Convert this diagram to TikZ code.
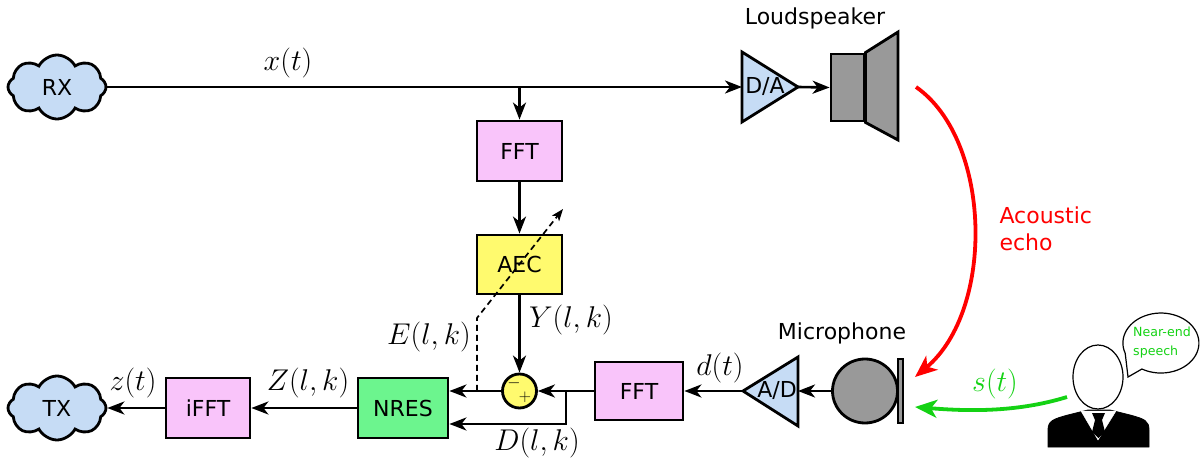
\RequirePackage{fix-cm}
\documentclass[tikz,border=0pt]{standalone}
\usepackage[no-math]{fontspec}
\setmainfont{DejaVu Sans}
\usetikzlibrary{shapes.symbols,shapes.geometric,arrows.meta,calc}

\definecolor{cloudblue}{RGB}{198,220,245}
\definecolor{fftpink}{RGB}{249,196,250}
\definecolor{aecyellow}{RGB}{255,250,110}
\definecolor{nresgreen}{RGB}{108,245,142}
\definecolor{spkgray}{RGB}{153,153,153}
\definecolor{speechgreen}{RGB}{20,210,20}

\tikzset{
  sans/.style={font=\fontsize{22}{25}\selectfont},
  mathlbl/.style={font=\fontsize{30}{34}\selectfont, inner sep=0pt},
  blk/.style={draw, line width=2.8pt, sans, inner sep=0pt},
  fftbox/.style={blk, fill=fftpink, minimum width=85pt, minimum height=60pt},
  aecbox/.style={blk, fill=aecyellow, minimum width=85pt, minimum height=59pt},
  nresbox/.style={blk, fill=nresgreen, minimum width=90pt, minimum height=60pt},
  netcloud/.style={cloud, draw, fill=cloudblue, line width=2.8pt, cloud puffs=8,
    cloud puff arc=125, aspect=1.6, minimum width=98pt, minimum height=64pt,
    inner sep=0pt, sans},
  converter/.style={draw, fill=cloudblue, line width=2.8pt, line join=miter},
  grayshape/.style={draw, fill=spkgray, line width=2.8pt},
  arr/.style={line width=2.6pt, -{Stealth[length=17pt,width=13pt,inset=5pt]}},
  echoarr/.style={red, line width=3.8pt, -{Stealth[length=22pt,width=18pt,inset=6pt]}},
  speecharr/.style={speechgreen, line width=3.8pt, -{Stealth[length=22pt,width=18pt,inset=6pt]}},
}

\begin{document}
\begin{tikzpicture}[x=1pt, y=-1pt]
\useasboundingbox (0,0) rectangle (1200,462);

% ---- far-end path -------------------------------------------------------
\node[netcloud] (rx) at (57,87) {RX};

% D/A converter
\draw[converter] (742,52) -- (798,87) -- (742,122) -- cycle;
\node[sans, inner sep=0pt] (da) at (765,87) {D/A};
\coordinate (daIn) at (742,87);
\coordinate (daOut) at (798,87);

% loudspeaker
\node[grayshape, minimum width=33pt, minimum height=67pt, inner sep=0pt] (spk) at (847.5,87.5) {};
\draw[grayshape, line join=miter] (spk.north east) -- (898,32) -- (898,140) -- (spk.south east) -- cycle;
\node[sans] (spklbl) at (815,18) {Loudspeaker};

\coordinate (j1) at (519.5,87);
\draw[arr] (rx.east) -- (daIn);
\draw[arr] (daOut) -- (spk.west);
\node[mathlbl] (xt) at (288,63) {$x(t)$};

% ---- processing chain --------------------------------------------------
\node[fftbox] (fft1) at (519.5,151) {FFT};
\node[aecbox] (aec) at (519.5,264.5) {AEC};
\node[circle, draw, fill=aecyellow, line width=2.8pt, minimum size=34pt, inner sep=0pt] (sum) at (519.5,391) {};
\node[font=\fontsize{17}{17}\selectfont, inner sep=0pt] (minus) at (514,383) {$-$};
\node[font=\fontsize{17}{17}\selectfont, inner sep=0pt] (plus) at (525,397) {$+$};
\node[fftbox, minimum width=88pt, minimum height=58pt] (fft2) at (639,391) {FFT};
\node[nresbox] (nres) at (403,408) {NRES};
\node[fftbox, minimum width=84pt] (ifft) at (208,408) {iFFT};
\node[netcloud] (tx) at (57,408) {TX};

\draw[arr] (j1) -- (fft1.north);
\draw[arr] (fft1.south) -- (aec.north);
\draw[arr] (aec.south) -- (sum.north);
\draw[arr] (fft2.west) -- (sum.east);
\draw[arr] (sum.west) -- (sum.west -| nres.east);
\coordinate (j2) at (566,391);
\draw[arr] (j2) |- ([yshift=-16pt]nres.east);
\draw[arr] (nres.west) -- (ifft.east);
\draw[arr] (ifft.west) -- (tx.east);

% adaptation (error feedback) path
\coordinate (e0) at (477,391);
\coordinate (e1) at (477,318);
\coordinate (e2) at (563,209);
\draw[line width=1.7pt, dash pattern=on 6pt off 4pt, -{Stealth[length=12pt,width=9pt,inset=3pt]}] (e0) -- (e1) -- (e2);

\node[mathlbl] (ylk) at (571,320) {$Y(l,k)$};
\node[mathlbl] (elk) at (429,337) {$E(l,k)$};
\node[mathlbl] (dlk) at (537,443) {$D(l,k)$};
\node[mathlbl] (zlk) at (308,383) {$Z(l,k)$};
\node[mathlbl] (zt) at (133,383) {$z(t)$};
\node[mathlbl] (dt) at (720,368) {$d(t)$};

% ---- near-end capture --------------------------------------------------
\draw[converter] (798,357) -- (743,391) -- (798,426) -- cycle;
\node[sans, inner sep=0pt] (ad) at (777,391) {A/D};
\coordinate (adIn) at (798,391);
\coordinate (adOut) at (743,391);

\node[ellipse, grayshape, minimum width=65pt, minimum height=64pt, inner sep=0pt] (mic) at (865,391) {};
\node[draw, fill=spkgray, line width=1.8pt, minimum width=5pt, minimum height=64pt, inner sep=0pt] (micbar) at (900.5,391) {};
\node[sans] (miclbl) at (842,333) {Microphone};

\draw[arr] (mic.west) -- (adIn);
\draw[arr] (adOut) -- (fft2.east);

% acoustic echo
\draw[echoarr] (916,87) .. controls (992,140) and (995,310) .. (915,377);
\node[sans, red, anchor=west, align=left, font=\fontsize{22}{27}\selectfont] (echo) at (996,229) {Acoustic\\echo};

% near-end talker
\draw[black, line width=0.8pt, fill=black]
  (1048,447) -- (1048,430) .. controls (1048,421) and (1053,419) .. (1068,415)
  -- (1088,410) -- (1110,410) -- (1130,415)
  .. controls (1145,419) and (1149,421) .. (1149,430) -- (1149,447) -- cycle;
\draw[white, fill=white] (1081,411) -- (1098,440) -- (1116,411) -- cycle;
\fill[black] (1092,413) -- (1105,413) -- (1102,420) -- (1095,420) -- cycle;
\fill[black] (1095,420) -- (1102,420) -- (1105,432) -- (1098.5,438) -- (1092,432) -- cycle;
\node[ellipse, draw, fill=white, line width=1.2pt, minimum width=50pt, minimum height=64pt, inner sep=0pt] (head) at (1098,377) {};

% speech bubble
\draw[line width=1.2pt, fill=white] (1125.2,353.3) arc[start angle=160, end angle=480, x radius=38, y radius=30] -- (1128,377) -- cycle;
\node[speechgreen, anchor=west, align=left, inner sep=0pt, font=\fontsize{12.6}{19}\selectfont] (bubble) at (1133,343) {Near-end\\speech};

\draw[speecharr] (1067,397) .. controls (1015,413) and (965,411) .. (915,407);
\node[mathlbl, text=speechgreen] (st) at (995,384) {$s(t)$};

\end{tikzpicture}
\end{document}
